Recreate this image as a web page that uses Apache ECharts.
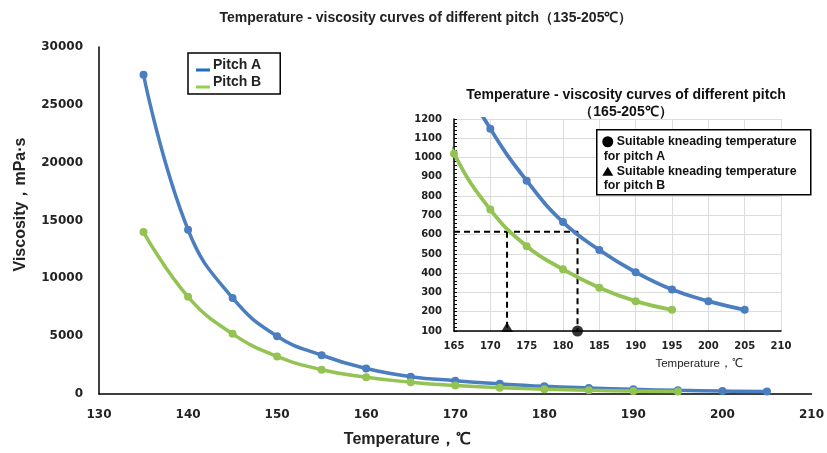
<!DOCTYPE html>
<html>
<head>
<meta charset="utf-8">
<script src="https://cdn.jsdelivr.net/npm/echarts@6/dist/echarts.min.js"></script>
<style>
html, body { margin: 0; padding: 0; background: #fff; }
#chart { width: 827px; height: 453px; }
</style>
</head>
<body>
<div id="chart"></div>
<script>
// temperature, degC
const temps_a = [135, 140, 145, 150, 155, 160, 165, 170, 175, 180, 185, 190, 195, 200, 205];
const temps_b = [135, 140, 145, 150, 155, 160, 165, 170, 175, 180, 185, 190, 195];
// viscosity, mPa·s
const visc_a = [27600, 14200, 8300, 5000, 3350, 2200, 1500, 1150, 880, 665, 520, 405, 315, 255, 210];
const visc_b = [14000, 8400, 5200, 3250, 2100, 1450, 1020, 730, 540, 420, 325, 255, 210];

// suitable kneading temperatures (inset)
const knead_level = 615;
const knead_temp_a = 182;
const knead_temp_b = 172.3;
const inset_floor = 100;

const main_x_ticks = [130, 210, 10];
const main_y_ticks = [0, 30000, 5000];
const inset_x_ticks = [165, 210, 5];
const inset_y_ticks = [100, 1200, 100];

const blue = "#4a7ebf";
const green = "#92c353";
const font = "Liberation Sans, Arial, sans-serif";
const tick_font = "DejaVu Sans, Verdana, sans-serif";
// short bar sitting at the bottom of the legend row
const swatch_icon = "path://M0,0L0.01,0L0.01,0.01ZM0,10L14,10L14,13L0,13Z";

const zip = (xs, ys) => xs.map((x, i) => [x, ys[i]]);
const plain = (v) => String(v);

const chart = echarts.init(document.getElementById("chart"));

const line_series = (name, data, color, axis_index, width, size) => ({
    name: name,
    type: "line",
    xAxisIndex: axis_index,
    yAxisIndex: axis_index,
    data: data,
    smooth: 0.45,
    symbol: "circle",
    symbolSize: size,
    showSymbol: true,
    clip: true,
    lineStyle: { color: color, width: width },
    itemStyle: { color: color },
    emphasis: { disabled: true },
    z: 3,
});

const dash_series = (data) => ({
    type: "line",
    xAxisIndex: 1,
    yAxisIndex: 1,
    data: data,
    symbol: "none",
    lineStyle: { color: "#000", width: 2, type: [6, 4] },
    silent: true,
    z: 2,
});

const legend_text = (x, y, text) => ({
    type: "text",
    z: 100,
    style: {
        x: x,
        y: y,
        text: text,
        font: "bold 12.3px " + font,
        fill: "#111",
        verticalAlign: "middle",
    },
});

const config = {
    animation: false,
    textStyle: { fontFamily: font },
    title: [
        {
            text: "Temperature - viscosity curves of different pitch（135-205℃）",
            left: 421,
            top: 6,
            textAlign: "center",
            textStyle: { fontSize: 14, fontWeight: "bold", color: "#222", fontFamily: font },
        },
        {
            text: "Temperature - viscosity curves of different pitch\n（165-205℃）",
            left: 621,
            top: 82,
            textAlign: "center",
            textStyle: { fontSize: 14, fontWeight: "bold", color: "#111", lineHeight: 17, fontFamily: font },
        },
    ],
    legend: {
        data: [
            { name: "Pitch A", itemStyle: { color: "#1b6fc2" } },
            { name: "Pitch B", itemStyle: { color: "#92d050" } },
        ],
        orient: "vertical",
        left: 188,
        top: 53,
        padding: [5, 19, 5, 8],
        itemGap: 3,
        itemWidth: 14,
        itemHeight: 13,
        borderColor: "#000",
        borderWidth: 1.5,
        borderRadius: 0,
        icon: swatch_icon,
        textStyle: { fontSize: 14, fontWeight: "bold", color: "#222", padding: [0, 0, 0, -2] },
    },
    grid: [
        { left: 99, right: 14, top: 47, bottom: 59 },
        { left: 454, width: 327, top: 119, height: 212, backgroundColor: "#fff", show: true, borderWidth: 0 },
    ],
    xAxis: [
        {
            type: "value",
            gridIndex: 0,
            min: main_x_ticks[0],
            max: main_x_ticks[1],
            interval: main_x_ticks[2],
            name: "Temperature，℃",
            nameLocation: "middle",
            nameGap: 38,
            nameTextStyle: { fontSize: 16, fontWeight: "bold", color: "#222", padding: [0, 96, 0, 0] },
            axisLine: { lineStyle: { color: "#000", width: 1.5 } },
            axisTick: { show: false },
            splitLine: { show: false },
            axisLabel: { fontSize: 12, fontWeight: "bold", color: "#222", margin: 15, fontFamily: tick_font, formatter: plain },
        },
        {
            type: "value",
            gridIndex: 1,
            min: inset_x_ticks[0],
            max: inset_x_ticks[1],
            interval: inset_x_ticks[2],
            name: "Temperature，℃",
            nameLocation: "end",
            nameGap: 0,
            nameTextStyle: {
                fontSize: 11.5,
                color: "#222",
                align: "right",
                verticalAlign: "top",
                padding: [27, 38, 0, 0],
            },
            axisLine: { lineStyle: { color: "#000", width: 1.5 } },
            axisTick: { show: false },
            splitLine: { show: true, lineStyle: { color: "#dcdcdc", width: 1 } },
            axisLabel: { fontSize: 10, fontWeight: "bold", color: "#222", margin: 10, fontFamily: tick_font, formatter: plain },
        },
    ],
    yAxis: [
        {
            type: "value",
            gridIndex: 0,
            min: main_y_ticks[0],
            max: main_y_ticks[1],
            interval: main_y_ticks[2],
            name: "Viscosity，mPa·s",
            nameLocation: "middle",
            nameGap: 70,
            nameTextStyle: { fontSize: 16, fontWeight: "bold", color: "#222", padding: [0, 0, 0, 32] },
            axisLine: { show: true, lineStyle: { color: "#000", width: 1.5 } },
            axisTick: { show: false },
            splitLine: { show: false },
            axisLabel: { fontSize: 12, fontWeight: "bold", color: "#222", margin: 16, fontFamily: tick_font, formatter: plain },
        },
        {
            type: "value",
            gridIndex: 1,
            min: inset_y_ticks[0],
            max: inset_y_ticks[1],
            interval: inset_y_ticks[2],
            axisLine: { show: true, lineStyle: { color: "#000", width: 1.5 } },
            axisTick: { show: true, inside: true, length: 3, lineStyle: { color: "#000" } },
            minorTick: { show: true, splitNumber: 5, length: 3, lineStyle: { color: "#000" } },
            splitLine: { show: true, lineStyle: { color: "#dcdcdc", width: 1 } },
            axisLabel: { fontSize: 10, fontWeight: "bold", color: "#222", margin: 12, fontFamily: tick_font, formatter: plain },
        },
    ],
    series: [
        line_series("Pitch A", zip(temps_a, visc_a), blue, 0, 3.5, 8),
        line_series("Pitch B", zip(temps_b, visc_b), green, 0, 3.5, 8),
        line_series("Pitch A inset", zip(temps_a, visc_a), blue, 1, 3.8, 8),
        line_series("Pitch B inset", zip(temps_b, visc_b), green, 1, 3.8, 8),
        dash_series([[inset_x_ticks[0], knead_level], [knead_temp_a, knead_level], [knead_temp_a, inset_floor]]),
        dash_series([[knead_temp_b, knead_level], [knead_temp_b, inset_floor]]),
        {
            type: "scatter",
            xAxisIndex: 1,
            yAxisIndex: 1,
            data: [[knead_temp_a, inset_floor]],
            symbol: "circle",
            symbolSize: 11,
            itemStyle: { color: "#000" },
            clip: false,
            z: 5,
        },
        {
            type: "scatter",
            xAxisIndex: 1,
            yAxisIndex: 1,
            data: [[knead_temp_b, inset_floor]],
            symbol: "triangle",
            symbolSize: [12, 10],
            symbolOffset: [0, -4],
            itemStyle: { color: "#000" },
            clip: false,
            z: 5,
        },
    ],
    graphic: [
        {
            type: "group",
            left: 596,
            top: 129,
            z: 100,
            children: [
                {
                    type: "rect",
                    z: 99,
                    shape: { x: 0, y: 0, width: 214, height: 65 },
                    style: { fill: "#fff", stroke: "#000", lineWidth: 1.5 },
                },
                { type: "circle", z: 100, shape: { cx: 11, cy: 12, r: 5.5 }, style: { fill: "#000" } },
                legend_text(20, 12, "Suitable kneading temperature"),
                legend_text(7, 27, "for pitch A"),
                { type: "polygon", z: 100, shape: { points: [[11, 37], [16.5, 46], [5.5, 46]] }, style: { fill: "#000" } },
                legend_text(20, 42, "Suitable kneading temperature"),
                legend_text(7, 56, "for pitch B"),
            ],
        },
    ],
};

chart.setOption(config);
</script>
</body>
</html>
